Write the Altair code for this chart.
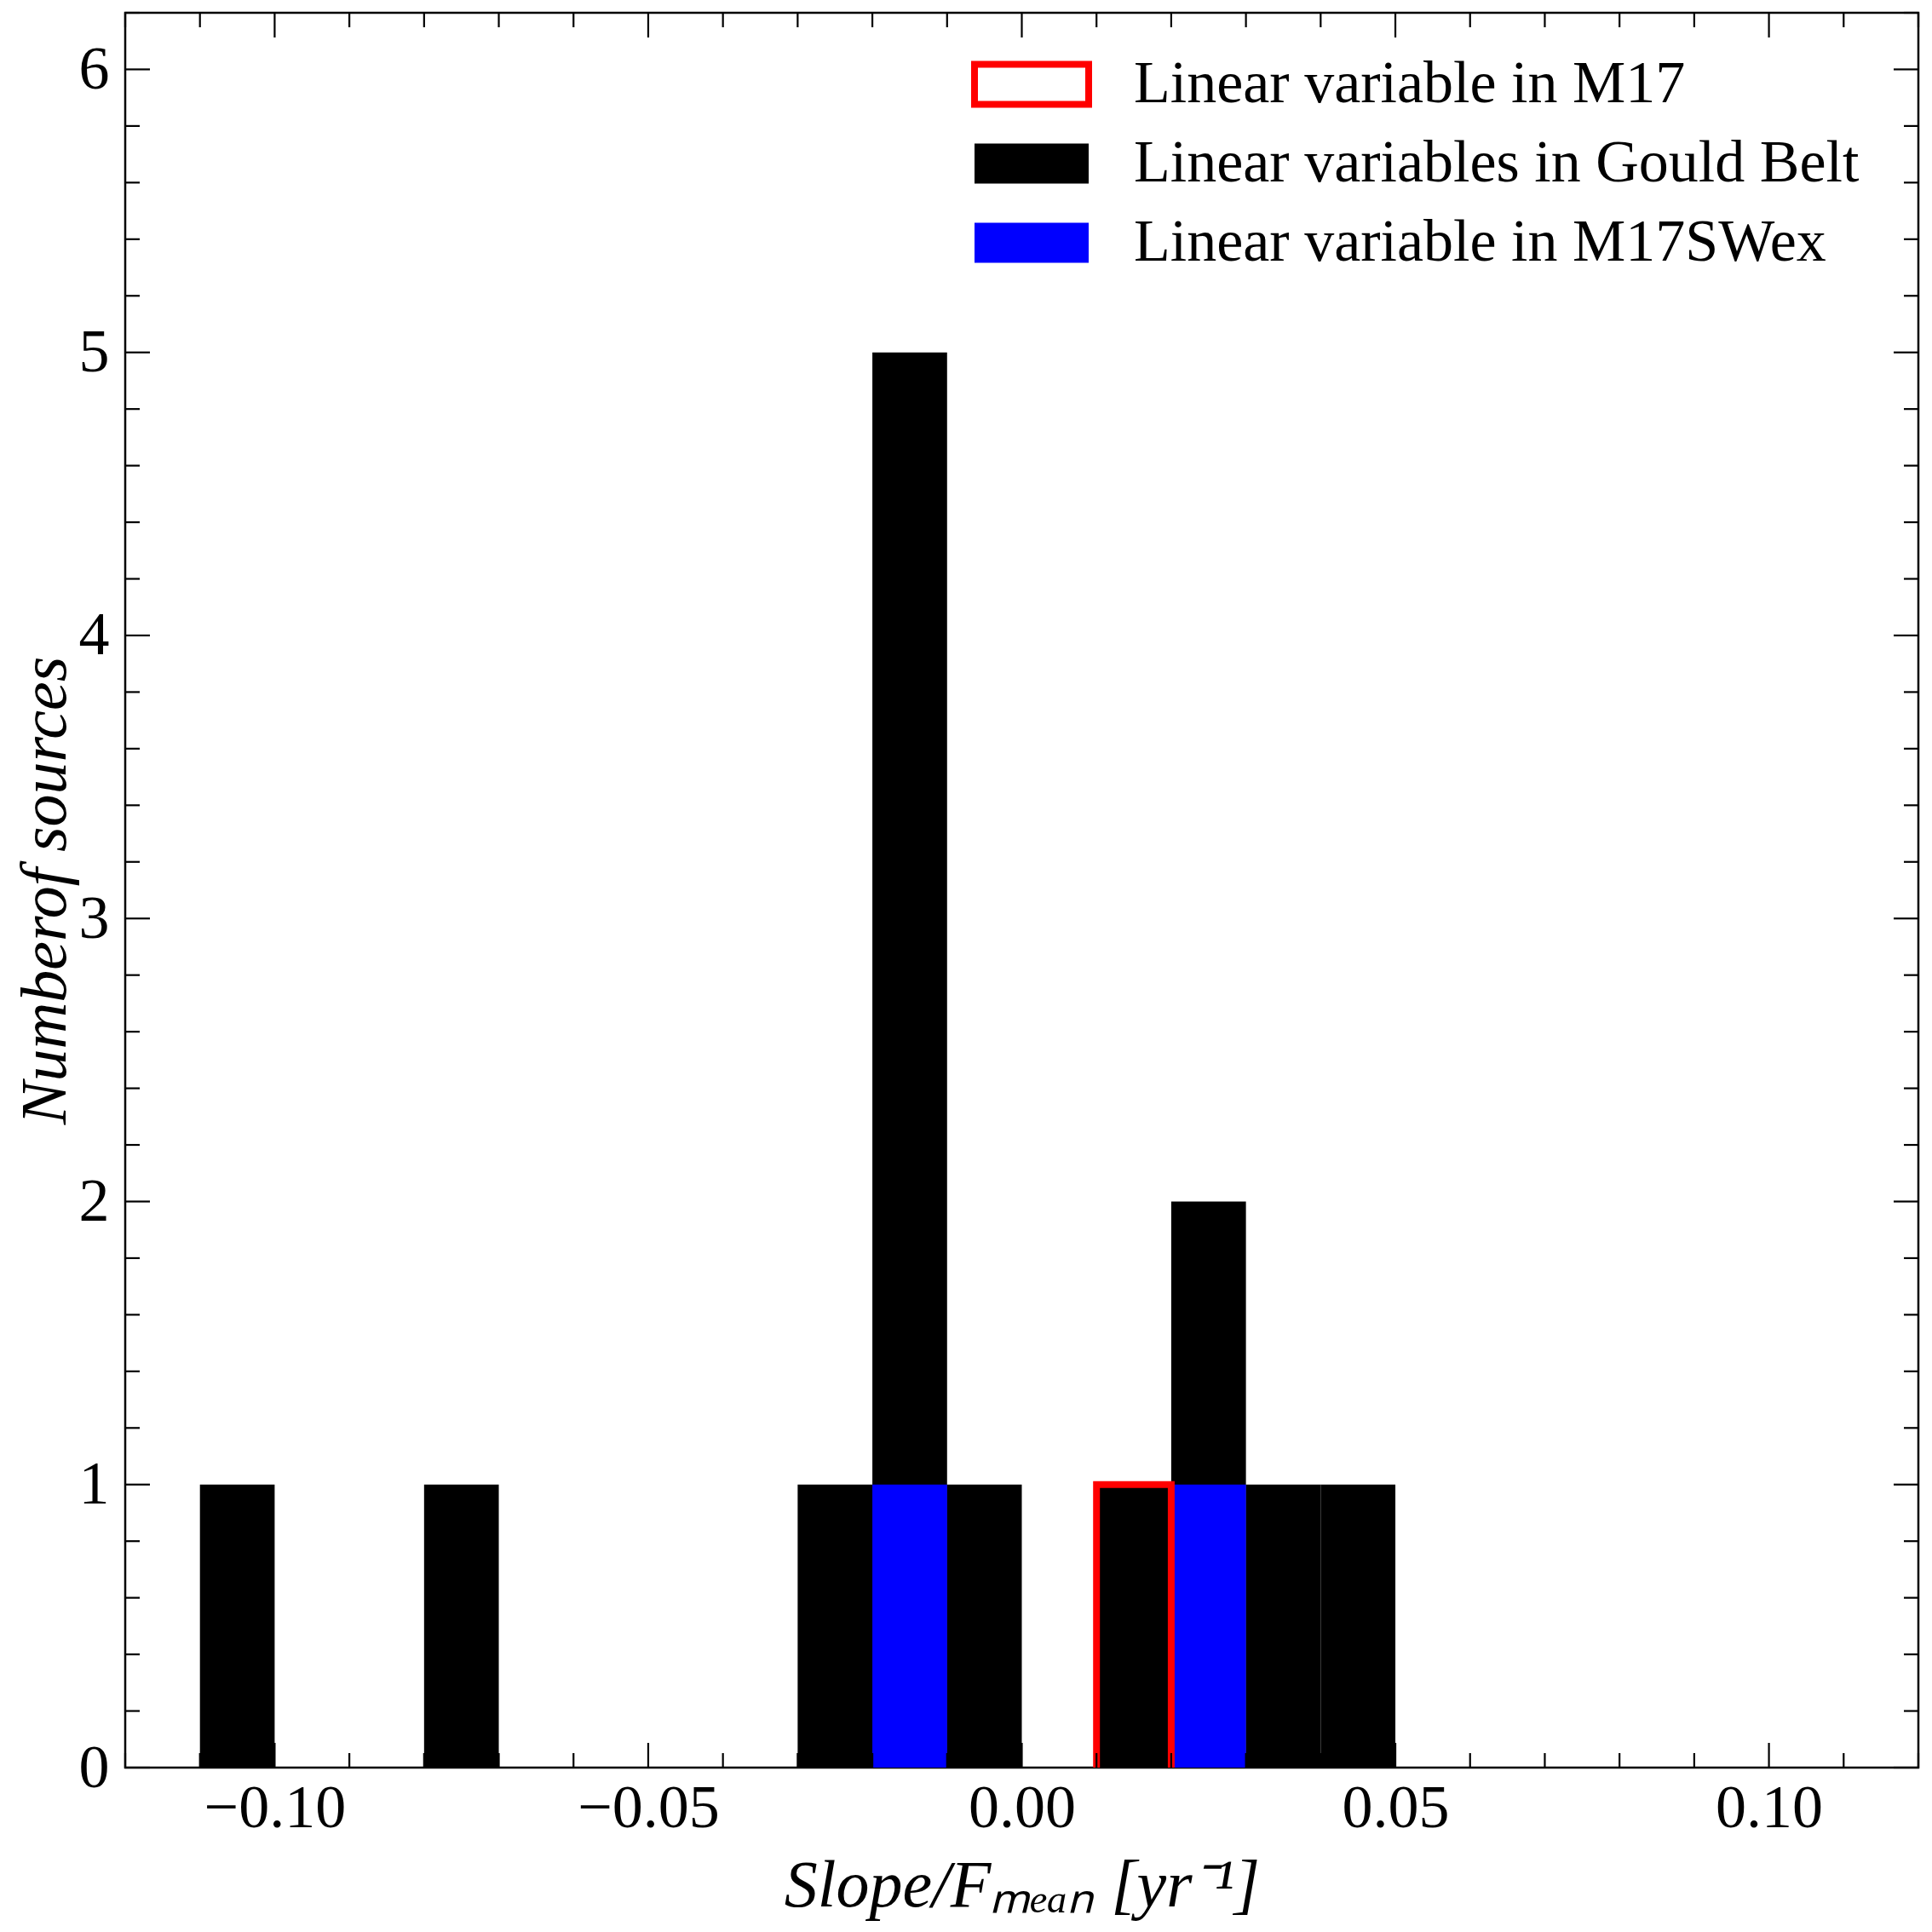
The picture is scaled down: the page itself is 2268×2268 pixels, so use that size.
import altair as alt
import pandas as pd

# ---------------- data ----------------
bin_width = 0.01
gould_starts = [-0.11, -0.08, -0.03, -0.02, -0.01, 0.01, 0.02, 0.03, 0.04]
gould_counts = [1, 1, 1, 5, 1, 1, 2, 1, 1]
swex_starts = [-0.02, 0.02]
swex_counts = [1, 1]
m17_starts = [0.01]
m17_counts = [1]

series_names = [
    "Linear variable in M17",
    "Linear variables in Gould Belt",
    "Linear variable in M17SWex",
]

x_major = [-0.10, -0.05, 0.0, 0.05, 0.10]
x_minor = [round(-0.12 + 0.01 * i, 2) for i in range(25)]
x_minor = [v for v in x_minor if all(abs(v - m) > 1e-9 for m in x_major)]
y_major = [0, 1, 2, 3, 4, 5, 6]
y_minor = [round(0.2 * i, 1) for i in range(32)]
y_minor = [v for v in y_minor if abs(v - round(v)) > 1e-9]

# ---------------- tables ----------------
rows = []
for starts, counts, name in [
    (gould_starts, gould_counts, series_names[1]),
    (swex_starts, swex_counts, series_names[2]),
]:
    for s, c in zip(starts, counts):
        rows.append({"start": s, "end": round(s + bin_width, 3), "count": c,
                     "zero": 0, "series": name})
bars_df = pd.DataFrame(rows)

# step outline (histtype="step") for the M17 histogram
step_rows = []
for k, (s, c) in enumerate(zip(m17_starts, m17_counts)):
    e = round(s + bin_width, 3)
    for i, (xv, yv) in enumerate([(s, 0), (s, c), (e, c), (e, 0)]):
        step_rows.append({"sx": xv, "sy": yv, "i": i, "bin": k,
                          "series": series_names[0]})
step_df = pd.DataFrame(step_rows)

W, H = 2105, 2060
FONT = "Liberation Serif"
MAJ, MIN = 29, 17

xs = alt.Scale(domain=[-0.12, 0.12], nice=False, zero=False)
ys = alt.Scale(domain=[0, 6.2], nice=False, zero=False)

x_axis = alt.Axis(values=x_major, format=".2f",
                  title="Slope/Fₘₑₐₙ [yr⁻¹]",
                  labelPadding=12, titleY=162,
                  titleBaseline="alphabetic")
y_axis = alt.Axis(values=y_major, format="d",
                  title="Numberof sources",
                  labelPadding=19, titleX=-71,
                  titleFontSize=76,
                  titleBaseline="alphabetic")

legend = alt.Legend(
    title=None,
    orient="none",
    legendX=1029,
    legendY=49,
    symbolType="M-2.68,-0.94H2.68V0.94H-2.68Z",
    symbolSize=2500,
    symbolStrokeWidth=8,
    labelFont=FONT,
    labelFontSize=70,
    labelOffset=85,
    labelLimit=2000,
    labelColor="black",
    rowPadding=13,
    padding=0,
)

fill_scale = alt.Scale(domain=series_names, range=["transparent", "black", "blue"])
stroke_scale = alt.Scale(domain=series_names, range=["red", "transparent", "transparent"])

bars = alt.Chart(bars_df).mark_rect(strokeWidth=0).encode(
    x=alt.X("start:Q", scale=xs, axis=x_axis),
    x2="end:Q",
    y=alt.Y("count:Q", scale=ys, stack=None, axis=y_axis),
    y2="zero:Q",
    fill=alt.Fill("series:N", scale=fill_scale, legend=legend),
)

step = alt.Chart(step_df).mark_line(strokeWidth=8, strokeJoin="miter",
                                    strokeCap="butt").encode(
    x=alt.X("sx:Q", scale=xs, axis=x_axis),
    y=alt.Y("sy:Q", scale=ys, axis=y_axis),
    stroke=alt.Stroke("series:N", scale=stroke_scale, legend=legend),
    order=alt.Order("i:Q"),
    detail="bin:N",
)


def xticks(vals, length, top):
    d = pd.DataFrame({"xv": vals})
    if top:
        yv, y2v = 0, length
    else:
        yv, y2v = H, H - length
    return alt.Chart(d).mark_rule(color="black", strokeWidth=2.2).encode(
        x=alt.X("xv:Q", scale=xs, axis=x_axis),
        y=alt.value(yv), y2=alt.value(y2v))


def yticks(vals, length, right):
    d = pd.DataFrame({"yv": vals})
    if right:
        xv, x2v = W, W - length
    else:
        xv, x2v = 0, length
    return alt.Chart(d).mark_rule(color="black", strokeWidth=2.2).encode(
        y=alt.Y("yv:Q", scale=ys, axis=y_axis),
        x=alt.value(xv), x2=alt.value(x2v))


chart = alt.layer(
    bars, step,
    xticks(x_major, MAJ, False), xticks(x_minor, MIN, False),
    xticks(x_major, MAJ, True), xticks(x_minor, MIN, True),
    yticks(y_major, MAJ, False), yticks(y_minor, MIN, False),
    yticks(y_major, MAJ, True), yticks(y_minor, MIN, True),
).properties(
    width=W, height=H,
    autosize="none",
    padding={"left": 139, "top": 7, "right": 8, "bottom": 185},
    background="white",
).configure_view(
    stroke="black", strokeWidth=2.5,
).configure_axis(
    domain=False, ticks=False, grid=False,
    labelFont=FONT, labelFontSize=72, labelColor="black",
    titleFont=FONT, titleFontSize=78, titleFontStyle="italic",
    titleFontWeight="normal", titleColor="black",
)

chart.save("out.html", embed_options={"renderer": "svg", "actions": False})
